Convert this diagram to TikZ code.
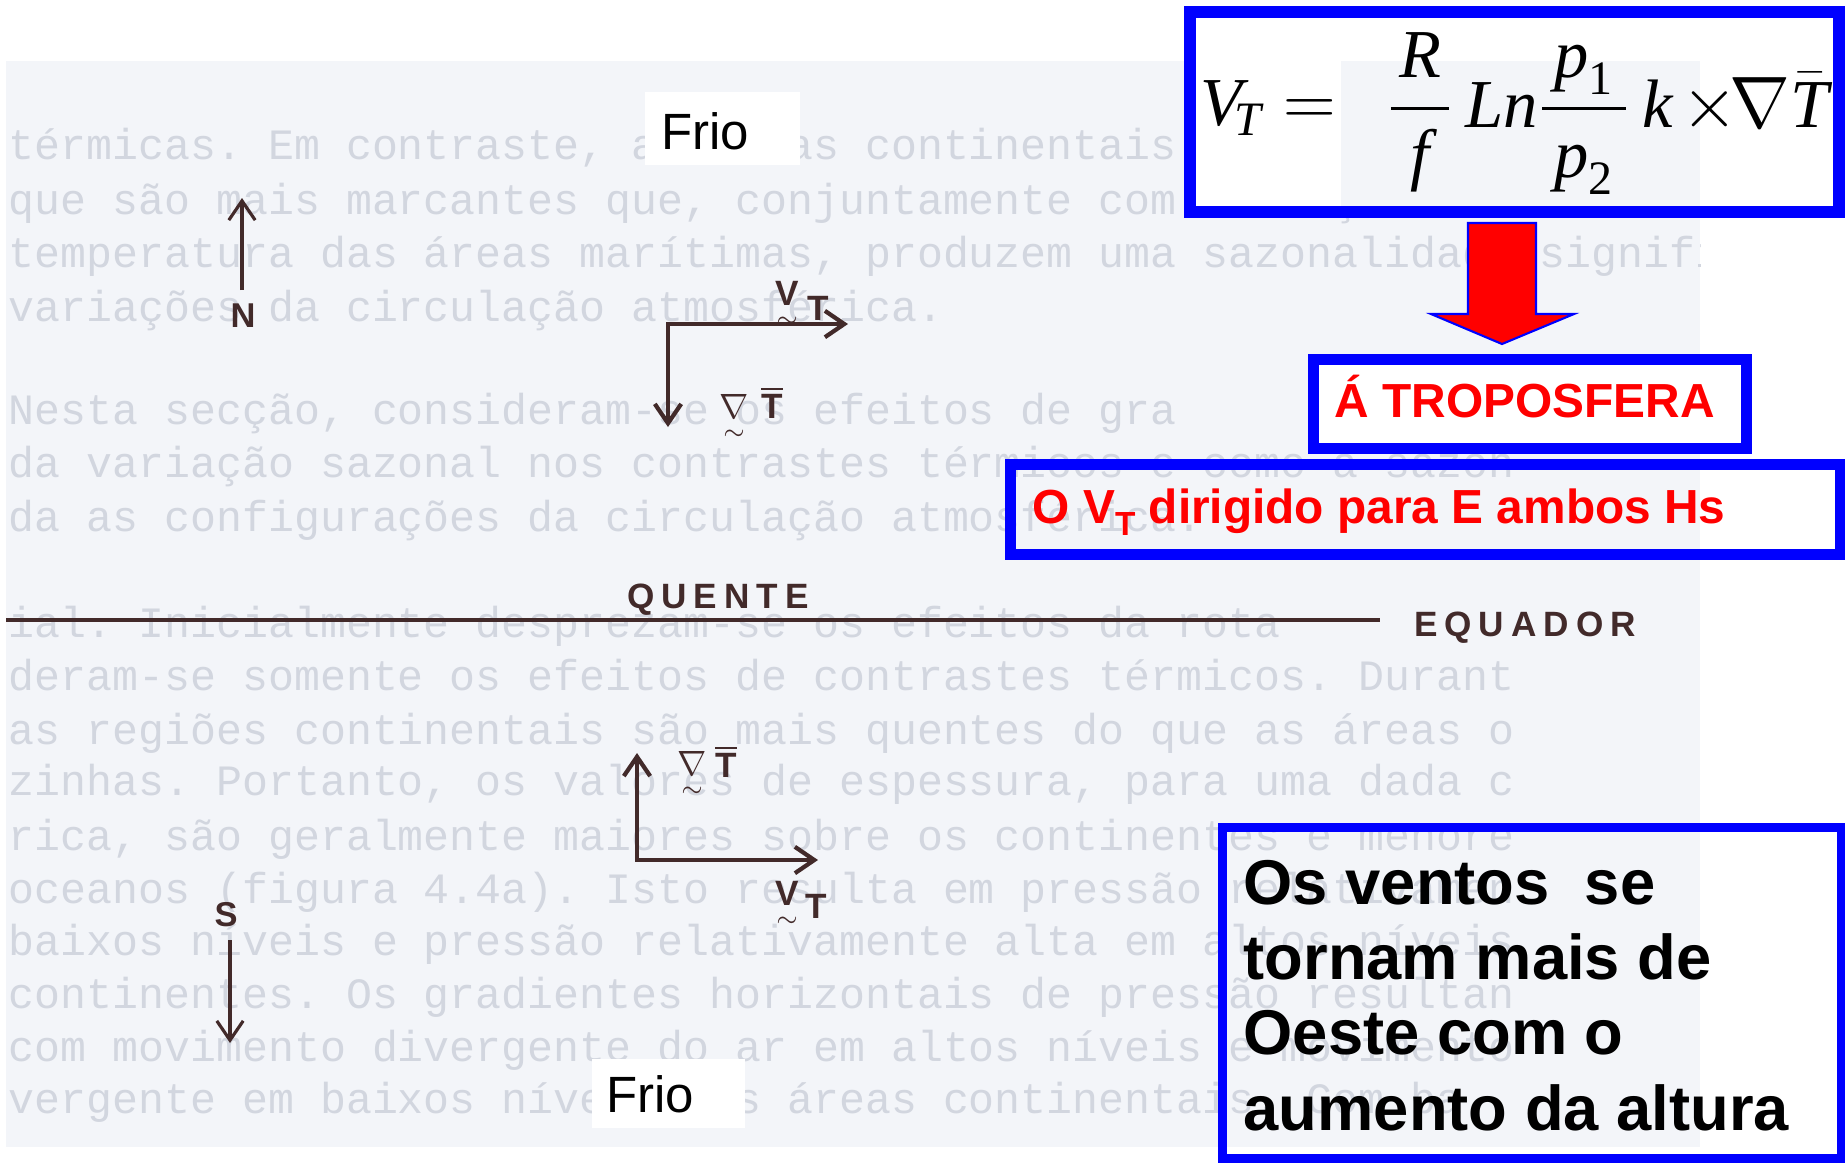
\documentclass[tikz,border=0pt]{standalone}
\usepackage{amsmath}
\usepackage{fontspec}
\setmainfont{Liberation Sans}
\setmonofont{Liberation Mono}
\newfontfamily\tms{Liberation Serif}
\newfontfamily\letr[LetterSpace=20]{Liberation Sans}
\usetikzlibrary{arrows.meta}
\definecolor{scanbg}{RGB}{243,245,249}
\definecolor{ghost}{RGB}{210,214,223}
\definecolor{ink}{RGB}{66,42,42}
\newcommand\ti[1]{\text{\tms\itshape #1}}
\newcommand\tl[1]{$\underset{\sim}{\text{#1}}$}
\begin{document}
\begin{tikzpicture}[x=0.01cm,y=-0.01cm,
  >={Straight Barb[length=5.5pt,width=7.5pt]},
  ghosttext/.style={anchor=base west, inner sep=0, text=ghost, font=\ttfamily\fontsize{12.3}{14}\selectfont},
  lab/.style={text=ink, inner sep=0, font=\letr\bfseries\fontsize{10}{12}\selectfont},
  vlab/.style={text=ink, inner sep=0, anchor=base, font=\bfseries\fontsize{10}{12}\selectfont},
  vec/.style={draw=ink, line width=1.2pt, line join=miter},
  bluebox/.style={draw=blue, line width=#1},
  redtext/.style={anchor=base west, inner sep=0, text=red, font=\bfseries\fontsize{13.6}{16}\selectfont},
  bigtext/.style={anchor=base west, inner sep=0, font=\bfseries\fontsize{18}{21}\selectfont},
  friotext/.style={anchor=base, inner sep=0, font=\fontsize{14.5}{17}\selectfont},
  formtext/.style={anchor=base west, inner sep=0, font=\fontsize{19.5}{24}\selectfont}]
\useasboundingbox (0,0) rectangle (1845,1163);
\fill[white] (0,0) rectangle (1845,1163);
% scanned page background
\fill[scanbg] (6,61) rectangle (1700,1147);
\begin{scope}
\clip (6,61) rectangle (1700,1147);
\foreach \gy/\gt [count=\gi] in {
 159/{térmicas. Em contraste, as áreas continentais mostram variações},
 214/{ que são mais marcantes que, conjuntamente com variações das},
 267/{temperatura das áreas marítimas, produzem uma sazonalidade significati},
 321/{                     variações da circulação atmosférica.},
 424/{     Nesta secção, consideram-se os efeitos de gra},
 477/{da variação sazonal nos contrastes térmicos e como a sazon},
 531/{          da as configurações da circulação atmosférica.},
 637/{ial.      Inicialmente desprezam-se os efeitos da rota},
 690/{deram-se somente os efeitos de contrastes térmicos. Durant},
 744/{as regiões continentais são mais quentes do que as áreas o},
 795/{zinhas. Portanto, os valores de espessura, para uma dada c},
 850/{rica, são geralmente maiores sobre os continentes e menore},
 903/{oceanos (figura 4.4a). Isto resulta em pressão relativamen},
 955/{baixos níveis e pressão relativamente alta em altos níveis},
 1008/{continentes. Os gradientes horizontais de pressão resultan},
 1061/{com movimento divergente do ar em altos níveis e movimento},
 1113/{vergente em baixos níveis nas áreas continentais. Com ba}}
 \node[ghosttext] (ghost\gi) at (8,\gy) {\gt};
\end{scope}
% equator line
\coordinate (eqL) at (6,620);
\coordinate (eqR) at (1380,620);
\draw[ink, line width=1.3pt] (eqL) -- (eqR);
\node[lab] (quente) at (718,600) {QUENTE};
\node[lab] (equador) at (1525,628) {EQUADOR};
% N and S arrows
\coordinate (nA) at (242,290);
\coordinate (nB) at (242,198);
\draw[ink, line width=0.9pt, ->] (nA) -- (nB);
\node[lab, font=\bfseries\fontsize{9.8}{11}\selectfont] (N) at (243,316) {N};
\coordinate (sA) at (230,940);
\coordinate (sB) at (230,1043);
\draw[ink, line width=0.9pt, ->] (sA) -- (sB);
\node[lab, font=\bfseries\fontsize{9.8}{11}\selectfont] (S) at (226,915) {S};
% top vector pair
\coordinate (c1) at (668,324);
\coordinate (c1r) at (848,324);
\coordinate (c1d) at (668,427);
\draw[vec, <->] (c1d) -- (c1) -- (c1r);
\node[vlab] (vt1) at (787,305) {\tl{V}};
\node[vlab] (vt1T) at (818,320) {T};
\node[vlab] (gr1) at (734,418) {$\underset{\sim}{\nabla}$};
\node[vlab] (gr1T) at (772,418) {$\overline{\text{T}}$};
% bottom vector pair
\coordinate (c2) at (637,860);
\coordinate (c2u) at (637,753);
\coordinate (c2r) at (818,860);
\draw[vec, <->] (c2u) -- (c2) -- (c2r);
\node[vlab] (gr2) at (692,775) {$\underset{\sim}{\nabla}$};
\node[vlab] (gr2T) at (726,777) {$\overline{\text{T}}$};
\node[vlab] (vt2) at (787,905) {\tl{V}};
\node[vlab] (vt2T) at (816,918) {T};
% Frio labels
\fill[white] (645,92) rectangle (800,165);
\node[friotext] (frio1) at (705,149) {Frio};
\fill[white] (592,1059) rectangle (745,1128);
\node[friotext] (frio2) at (650,1112) {Frio};
% formula box
\fill[white] (1190,12) rectangle (1839,212);
\fill[scanbg] (1341,61) rectangle (1700,206);
\draw[bluebox=0.12cm] (1190,12) rectangle (1839,212);
\node[formtext] (fV) at (1200,125) {$\ti{V}_{\!\ti{T}}$};
\node[formtext] (feq) at (1283,125) {$=$};
\node[formtext] (frhs) at (1386,127) {$\dfrac{\mkern2mu\ti{R}\mkern2mu}{\ti{f}}\,\ti{Ln}\dfrac{\,\ti{p}_{\text{\tms 1}}\,}{\ti{p}_{\text{\tms 2}}}\,\ti{k}\mkern2mu{\times}\mkern-2mu\nabla\bar{\ti{T}}$};
% red arrow
\coordinate (r1) at (1468,223);
\coordinate (r2) at (1536,223);
\coordinate (r3) at (1536,314);
\coordinate (r4) at (1574,314);
\coordinate (r5) at (1502,344);
\coordinate (r6) at (1431,314);
\coordinate (r7) at (1468,314);
\draw[fill=red, draw=blue, line width=0.6pt] (r1) -- (r2) -- (r3) -- (r4) -- (r5) -- (r6) -- (r7) -- cycle;
% troposfera box
\fill[white] (1313,359) rectangle (1746,448);
\draw[bluebox=0.11cm] (1313,359) rectangle (1746,448);
\node[redtext] (tropo) at (1334,417) {Á TROPOSFERA};
% O VT box
\draw[bluebox=0.11cm] (1010,464) rectangle (1840,554);
\node[redtext] (ovt) at (1032,523) {O V\raisebox{-3.5pt}{\fontsize{9.5}{10}\selectfont T} dirigido para E ambos Hs};
% ventos box
\draw[bluebox=0.09cm] (1222,827) rectangle (1841,1158);
\node[bigtext] (w1) at (1243,904) {Os ventos\ \ se};
\node[bigtext] (w2) at (1243,979) {tornam mais de};
\node[bigtext] (w3) at (1243,1054) {Oeste com o};
\node[bigtext] (w4) at (1243,1130) {aumento da altura};
\end{tikzpicture}
\end{document}
